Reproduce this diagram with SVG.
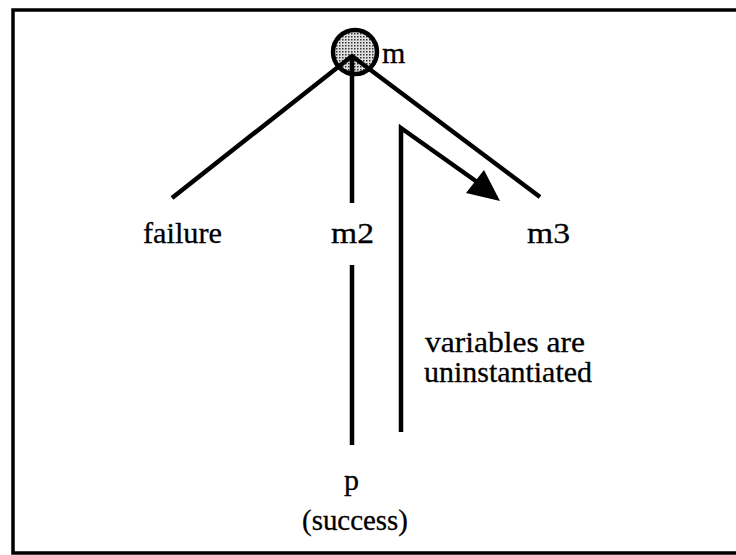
<svg xmlns="http://www.w3.org/2000/svg" width="736" height="555" viewBox="0 0 736 555">
<style>
.ln{stroke:#000;stroke-width:4.5;fill:none;stroke-linecap:butt}
.t{font-family:"Liberation Serif","Times New Roman",serif;font-size:30px;fill:#000;stroke:#000;stroke-width:0.3}
</style>
<defs>
<pattern id="dots" width="3" height="3" patternUnits="userSpaceOnUse">
<rect width="3" height="3" fill="#e0e0e0"/>
<rect width="1.5" height="1.5" fill="#333"/>
</pattern>
</defs>
<rect width="736" height="555" fill="#fff"/>
<g id="frame">
<path stroke="#000" stroke-width="3.5" fill="none" d="M736 10 H13 V553 H736"/>
</g>
<g id="node-m">
<circle cx="355" cy="52" r="22" fill="url(#dots)" stroke="#000" stroke-width="4.5"/>
<text class="t" x="382" y="63">m</text>
</g>
<g id="node-failure"><text class="t" x="143" y="243" textLength="79" lengthAdjust="spacingAndGlyphs">failure</text></g>
<g id="node-m2"><text class="t" x="331" y="243" textLength="43" lengthAdjust="spacingAndGlyphs">m2</text></g>
<g id="node-m3"><text class="t" x="527" y="243" textLength="43" lengthAdjust="spacingAndGlyphs">m3</text></g>
<g id="node-p"><text class="t" x="344" y="490">p</text></g>
<g id="label-success"><text class="t" x="302" y="530" textLength="106" lengthAdjust="spacingAndGlyphs">(success)</text></g>
<g id="label-vars">
<text class="t" x="425" y="352" textLength="160" lengthAdjust="spacingAndGlyphs">variables are</text>
<text class="t" x="424" y="382" textLength="168" lengthAdjust="spacingAndGlyphs">uninstantiated</text>
</g>
<g id="connectors">
<path class="ln" d="M172 198 L352 56 L540 197"/>
<path class="ln" d="M352 56 V203"/>
<path class="ln" d="M352 265 V445"/>
<path class="ln" d="M401 432 V128 L480 184"/>
<polygon points="500,201 466,193 484,170" fill="#000"/>
</g>
</svg>
